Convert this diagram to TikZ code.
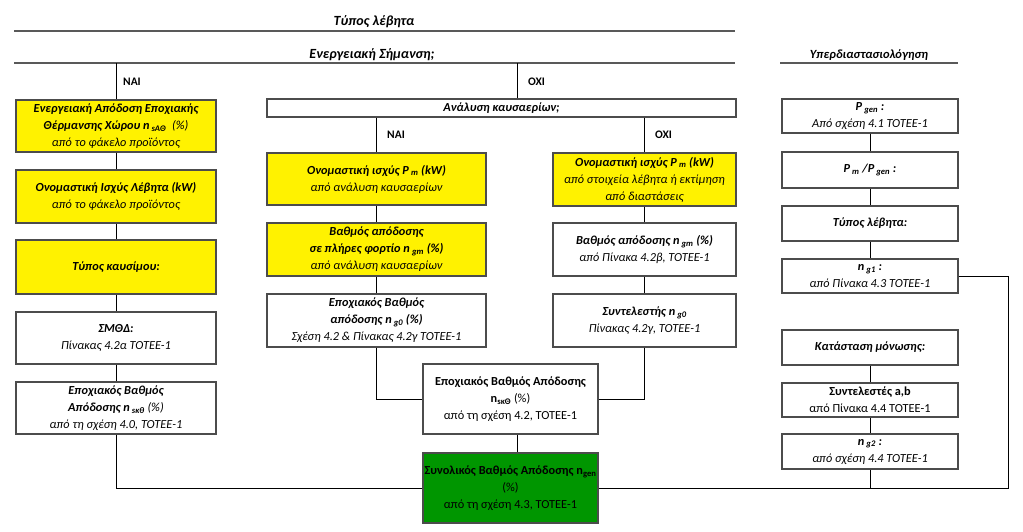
\documentclass[tikz,border=0pt]{standalone}
\usepackage{fontspec}
\setmainfont{Carlito}
\definecolor{mygreen}{RGB}{0,150,0}
\newcommand\bi{\bfseries\itshape}
\newcommand\sbs[1]{\textsubscript{#1}}
\newcommand\mkbox[7]{%
  \node[boxbase,#1,minimum width={(#5)-(#3)},minimum height={(#6)-(#4)}] (#2) at ({((#3)+(#5))/2},{((#4)+(#6))/2}) {#7};}
\tikzset{
  boxbase/.style={draw=black!70, line width=1.2pt, inner sep=0pt, align=center, font=\fontsize{12.3}{17}\selectfont},
  yel/.style={fill=yellow},
  wht/.style={fill=white},
  grn/.style={fill=mygreen},
  conn/.style={draw=black, line width=1pt},
  rulel/.style={draw=black!65, line width=1.6pt},
  head/.style={font=\fontsize{14}{16}\selectfont\bfseries\itshape, inner sep=0pt},
  yn/.style={font=\fontsize{11.5}{13}\selectfont\bfseries, anchor=west, inner sep=0pt}
}
\begin{document}
\begin{tikzpicture}[x=1pt,y=-1pt]
\useasboundingbox (0,0) rectangle (1023,531);
% headings and rules
\node[head] (t1) at (374,22) {Τύπος λέβητα};
\draw[rulel] (14,31) -- (735,31);
\node[head] (t2) at (372,55) {Ενεργειακή Σήμανση;};
\draw[rulel] (14,63) -- (735,63);
\node[head,font=\fontsize{12.5}{14}\selectfont\bfseries\itshape] (t3) at (869,55) {Υπερδιαστασιολόγηση};
\draw[rulel] (780,63) -- (958,63);
\coordinate (sL) at (116,63);
\coordinate (sR) at (517,63);
\node[yn] (nai1) at (123,82) {NAI};
\node[yn] (oxi1) at (528,82) {OXI};
% left column
\mkbox{yel}{L1}{16}{100}{216}{152}{{\bi Ενεργειακή Απόδοση Εποχιακής}\\{\bi Θέρμανσης Χώρου n\,\sbs{sAΘ}}\ \ {\itshape (\%)}\\{\itshape από το φάκελο προϊόντος}}
\mkbox{yel}{L2}{16}{170}{216}{223}{{\bi Ονομαστική Ισχύς Λέβητα (kW)}\\{\itshape από το φάκελο προϊόντος}}
\mkbox{yel}{L3}{16}{240}{216}{294}{{\bi Τύπος καυσίμου:}}
\mkbox{wht}{L4}{16}{312}{216}{364}{{\bi ΣΜΘΔ:}\\{\itshape Πίνακας 4.2α ΤΟΤΕΕ-1}}
\mkbox{wht}{L5}{16}{382}{216}{434}{{\bi Εποχιακός Βαθμός}\\{\bi Απόδοσης n\,\sbs{sκθ}}\ {\itshape (\%)}\\{\itshape από τη σχέση 4.0, ΤΟΤΕΕ-1}}
% analysis
\mkbox{wht}{A}{267}{99}{736}{117}{{\bi Ανάλυση καυσαερίων;}}
\node[yn] (nai2) at (387,135) {NAI};
\node[yn] (oxi2) at (655,135) {OXI};
\mkbox{yel}{M1}{267}{153}{486}{205}{{\bi Ονομαστική ισχύς P\,\sbs{m} (kW)}\\{\itshape από ανάλυση καυσαερίων}}
\mkbox{yel}{M2}{267}{223}{486}{276}{{\bi Βαθμός απόδοσης}\\{\bi σε πλήρες φορτίο n\,\sbs{gm} (\%)}\\{\itshape από ανάλυση καυσαερίων}}
\mkbox{wht}{M3}{267}{294}{486}{347}{{\bi Εποχιακός Βαθμός}\\{\bi απόδοσης n\,\sbs{g0} (\%)}\\{\itshape Σχέση 4.2 \& Πίνακας 4.2γ ΤΟΤΕΕ-1}}
\mkbox{yel}{R1}{553}{153}{736}{206}{{\bi Ονομαστική ισχύς P\,\sbs{m} (kW)}\\{\itshape από στοιχεία λέβητα ή εκτίμηση}\\{\itshape από διαστάσεις}}
\mkbox{wht}{R2}{553}{223}{736}{276}{{\bi Βαθμός απόδοσης n\,\sbs{gm} (\%)}\\{\itshape από Πίνακα 4.2β, ΤΟΤΕΕ-1}}
\mkbox{wht}{R3}{553}{294}{736}{347}{{\bi Συντελεστής n\,\sbs{g0}}\\{\itshape Πίνακας 4.2γ, ΤΟΤΕΕ-1}}
\mkbox{wht}{E}{423}{364}{598}{434}{{\bfseries Εποχιακός Βαθμός Απόδοσης}\\{\bfseries n\sbs{sκΘ}} (\%)\\από τη σχέση 4.2, ΤΟΤΕΕ-1}
\mkbox{grn}{G}{423}{453}{598}{523}{{\bfseries Συνολικός Βαθμός Απόδοσης n\sbs{gen}}\\(\%)\\από τη σχέση 4.3, ΤΟΤΕΕ-1}
% right column
\mkbox{wht}{P1}{782}{99}{958}{133}{{\bi P\,\sbs{gen} :}\\{\itshape Από σχέση 4.1 ΤΟΤΕΕ-1}}
\mkbox{wht}{P2}{782}{152}{958}{188}{{\bi P\,\sbs{m} /P\,\sbs{gen} :}}
\mkbox{wht}{P3}{782}{206}{958}{241}{{\bi Τύπος λέβητα:}}
\mkbox{wht}{P4}{782}{259}{958}{293}{{\bi n\,\sbs{g1} :}\\{\itshape από Πίνακα 4.3 ΤΟΤΕΕ-1}}
\mkbox{wht}{K}{782}{330}{958}{365}{{\bi Κατάσταση μόνωσης:}}
\mkbox{wht}{AB}{782}{383}{958}{417}{{\bfseries Συντελεστές a,b}\\από Πίνακα 4.4 ΤΟΤΕΕ-1}
\mkbox{wht}{NG2}{782}{434}{958}{469}{{\bi n\,\sbs{g2} :}\\{\itshape από σχέση 4.4 ΤΟΤΕΕ-1}}
\coordinate (rc) at (1008,488);
% connectors
\draw[conn] (sL) -- (L1.north);
\draw[conn] (L1.south) -- (L2.north);
\draw[conn] (L2.south) -- (L3.north);
\draw[conn] (L3.south) -- (L4.north);
\draw[conn] (L4.south) -- (L5.north);
\draw[conn] (L5.south) |- (G.west);
\draw[conn] (sR) -- (sR |- A.north);
\draw[conn] (A.south -| M1.north) -- (M1.north);
\draw[conn] (A.south -| R1.north) -- (R1.north);
\draw[conn] (M1.south) -- (M2.north);
\draw[conn] (M2.south) -- (M3.north);
\draw[conn] (M3.south) |- (E.west);
\draw[conn] (R1.south) -- (R2.north);
\draw[conn] (R2.south) -- (R3.north);
\draw[conn] (R3.south) |- (E.east);
\draw[conn] (E.south -| sR) -- (G.north -| sR);
\draw[conn] (P1.south) -- (P2.north);
\draw[conn] (P2.south) -- (P3.north);
\draw[conn] (P3.south) -- (P4.north);
\draw[conn] (P4.east) -| (rc) -- (G.east);
\draw[conn] (K.south) -- (AB.north);
\draw[conn] (AB.south) -- (NG2.north);
\draw[conn] (NG2.south) -- (NG2.south |- G.east);
\end{tikzpicture}
\end{document}
